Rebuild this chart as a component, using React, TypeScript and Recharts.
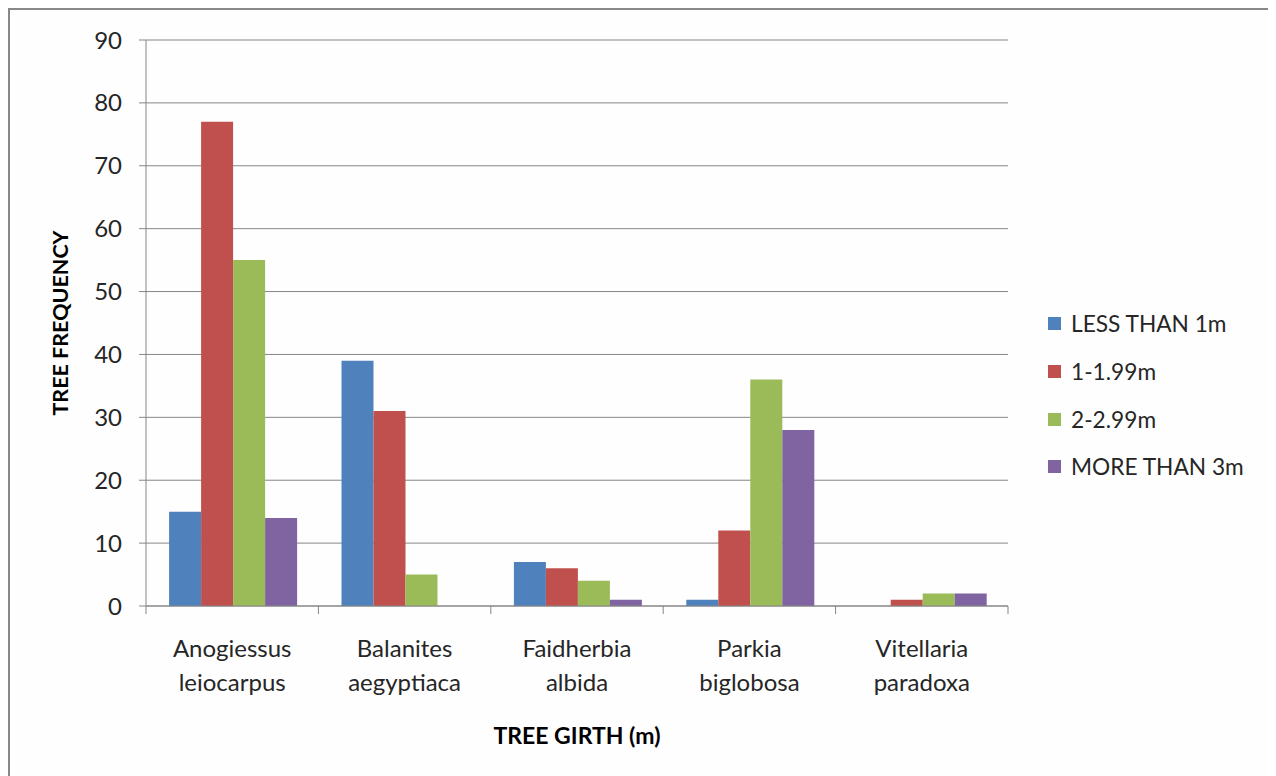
import { BarChart, Bar, XAxis, YAxis, CartesianGrid, Legend } from 'recharts'

// tree species, split in two lines like the original axis labels
const species = ['Anogiessus leiocarpus', 'Balanites aegyptiaca', 'Faidherbia albida', 'Parkia biglobosa', 'Vitellaria paradoxa']
const lessThan1 = [15, 39, 7, 1, 0]
const from1to199 = [77, 31, 6, 12, 1]
const from2to299 = [55, 5, 4, 36, 2]
const moreThan3 = [14, 0, 1, 28, 2]
const yTicks = [0, 10, 20, 30, 40, 50, 60, 70, 80, 90]

const series = [
  { key: 'less', name: 'LESS THAN 1m', color: '#4F81BD' },
  { key: 'one', name: '1-1.99m', color: '#C0504D' },
  { key: 'two', name: '2-2.99m', color: '#9BBB59' },
  { key: 'more', name: 'MORE THAN 3m', color: '#8064A2' },
]

const data = species.map((name, i) => ({
  name,
  less: lessThan1[i],
  one: from1to199[i],
  two: from2to299[i],
  more: moreThan3[i],
}))

const FONT = 'Lato, "Open Sans", sans-serif'
const AXIS = '#868686'

function SpeciesTick(props: any) {
  const { x, y, payload, index, visibleTicksCount } = props
  const half = payload.offset || 0
  const [first, second] = String(payload.value).split(' ')
  return (
    <g>
      <line x1={x - half} x2={x - half} y1={y - 8} y2={y} stroke={AXIS} />
      {index === visibleTicksCount - 1 && (
        <line x1={x + half} x2={x + half} y1={y - 8} y2={y} stroke={AXIS} />
      )}
      <text x={x} y={y} textAnchor="middle" fill="#262626" fontSize={24} fontFamily={FONT}>
        <tspan x={x} dy={43}>{first}</tspan>
        <tspan x={x} dy={34}>{second}</tspan>
      </text>
    </g>
  )
}

function LegendBox() {
  return (
    <div style={{ fontFamily: FONT, fontSize: 22.7, color: '#262626' }}>
      {series.map((s) => (
        <div key={s.key} style={{ display: 'flex', alignItems: 'center', height: 47.7 }}>
          <span style={{ width: 13, height: 13, background: s.color, marginRight: 10, display: 'inline-block' }} />
          <span>{s.name}</span>
        </div>
      ))}
    </div>
  )
}

export default function App() {
  return (
    <div
      style={{
        width: 1264,
        height: 780,
        borderLeft: '2px solid #888',
        borderTop: '2px solid #888',
        borderRight: '3px solid #888',
        background: '#fefefe',
        position: 'relative',
      }}
    >
      <BarChart
        width={1264}
        height={766}
        data={data}
        margin={{ top: 30, right: 266, bottom: 0, left: 40 }}
        barCategoryGap="13.4%"
        barGap={0}
      >
        <CartesianGrid vertical={false} stroke={AXIS} strokeWidth={1} />
        <XAxis
          dataKey="name"
          height={170}
          stroke={AXIS}
          tickLine={false}
          tick={<SpeciesTick />}
          interval={0}
          label={{
            value: 'TREE GIRTH (m)',
            position: 'insideTop',
            offset: 122,
            fill: '#000',
            fontSize: 23,
            fontWeight: 'bold',
            fontFamily: FONT,
          }}
        />
        <YAxis
          domain={[0, 90]}
          ticks={yTicks}
          interval={0}
          width={96}
          stroke={AXIS}
          tickSize={7}
          tickMargin={17}
          tick={{ fill: '#262626', fontSize: 24, fontFamily: FONT }}
          label={{
            value: 'TREE FREQUENCY',
            angle: -90,
            position: 'insideLeft',
            offset: 10,
            style: { textAnchor: 'middle' },
            fill: '#000',
            fontSize: 21.5,
            fontWeight: 'bold',
            fontFamily: FONT,
          }}
        />
        <Legend
          layout="vertical"
          align="center"
          verticalAlign="middle"
          wrapperStyle={{ left: 1038, top: 290, width: 230 }}
          content={<LegendBox />}
        />
        {series.map((s) => (
          <Bar key={s.key} dataKey={s.key} name={s.name} fill={s.color} isAnimationActive={false} />
        ))}
      </BarChart>
    </div>
  )
}
